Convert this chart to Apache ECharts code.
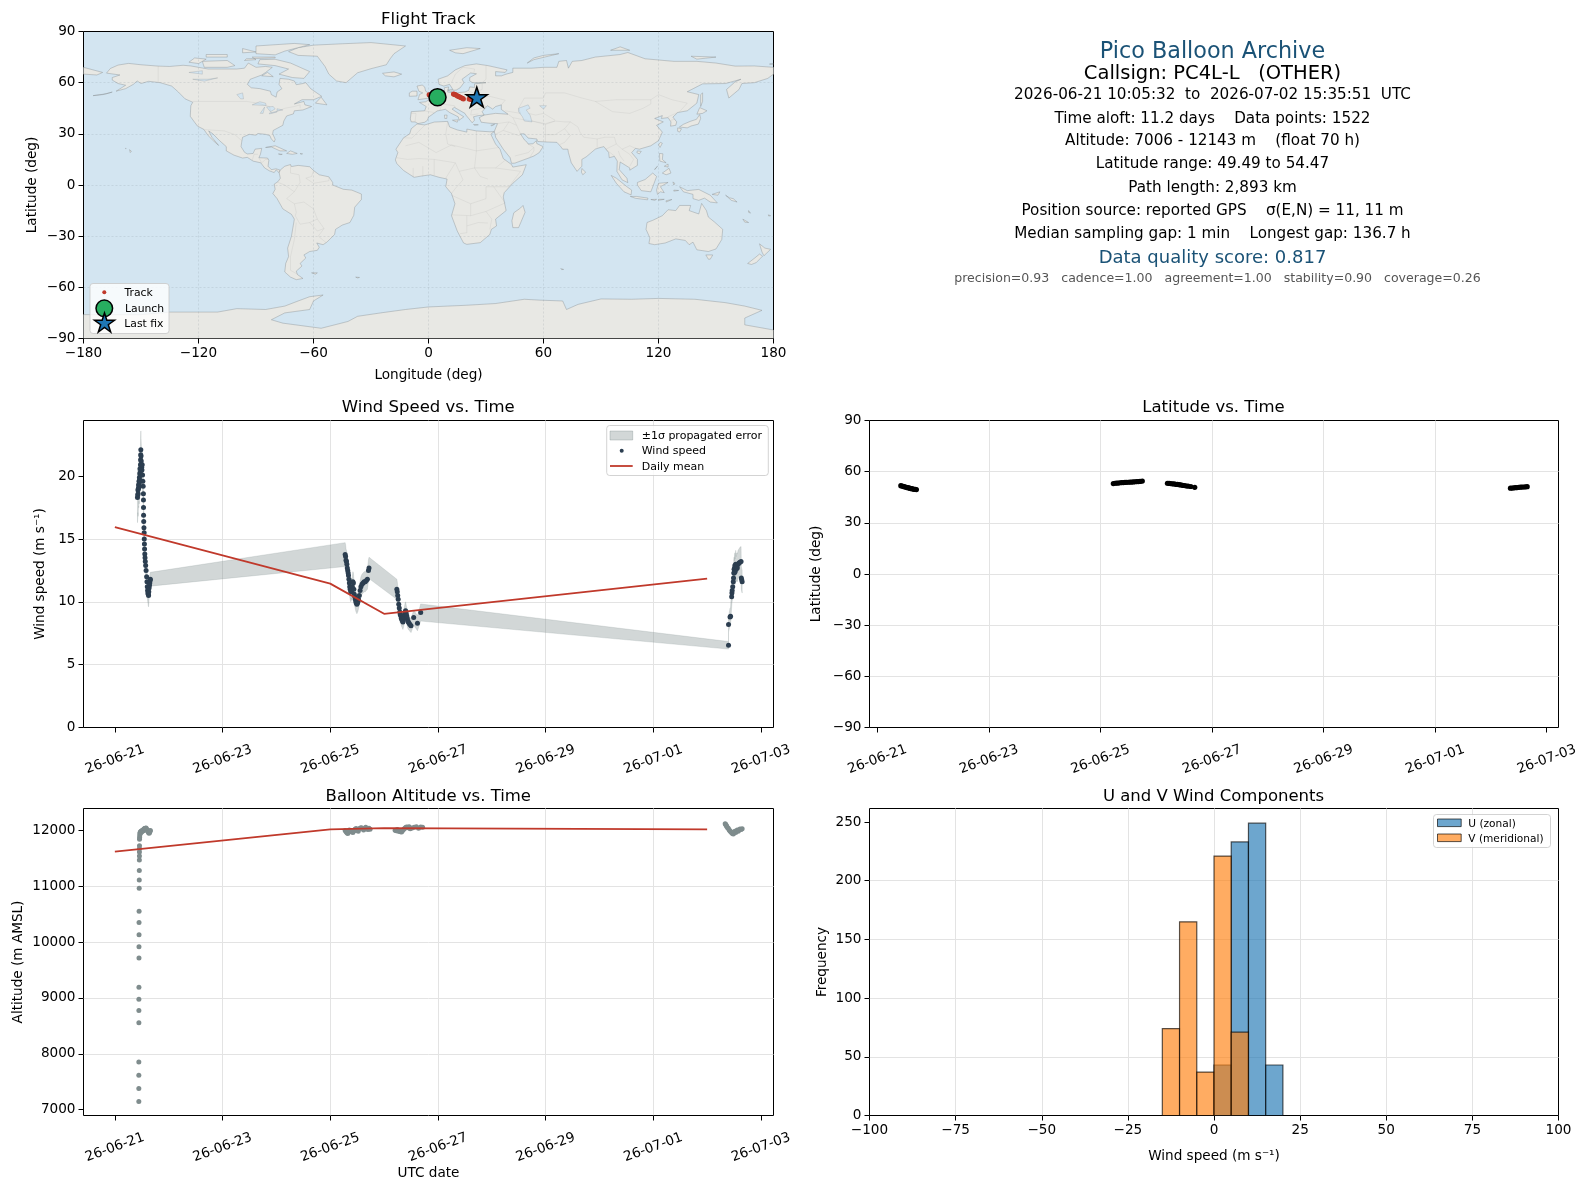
<!DOCTYPE html>
<html><head><meta charset="utf-8"><title>Pico Balloon Archive</title>
<style>html,body{margin:0;padding:0;background:#fff}#c{width:1587px;height:1189px}</style>
<script src="https://cdn.jsdelivr.net/npm/echarts@6/dist/echarts.min.js"></script>
</head><body><div id="c"></div><script>
const FONT='DejaVu Sans';
const chartTitles=['Flight Track','Wind Speed vs. Time','Latitude vs. Time','Balloon Altitude vs. Time','U and V Wind Components'];
const infoLines=[
 ['Pico Balloon Archive',22.3,'#1a5276'],['Callsign: PC4L-L   (OTHER)',19.5,'#000'],
 ['2026-06-21 10:05:32  to  2026-07-02 15:35:51  UTC',15.2,'#000'],
 ['Time aloft: 11.2 days    Data points: 1522',15.2,'#000'],
 ['Altitude: 7006 - 12143 m    (float 70 h)',15.2,'#000'],
 ['Latitude range: 49.49 to 54.47',15.2,'#000'],['Path length: 2,893 km',15.2,'#000'],
 ['Position source: reported GPS    σ(E,N) = 11, 11 m',15.2,'#000'],
 ['Median sampling gap: 1 min    Longest gap: 136.7 h',15.2,'#000'],
 ['Data quality score: 0.817',18,'#1a5276'],
 ['precision=0.93   cadence=1.00   agreement=1.00   stability=0.90   coverage=0.26',12.55,'#555']];

// land outlines, [lon,lat]
const northAmerica=[[-168,65.6],[-166,68.3],[-162,70.3],[-156.5,71.3],[-150,70.5],[-141,69.7],[-135,69.5],[-128,70.2],[-124,69.8],[-115,68],[-108,68],[-100,68],[-96,68.5],[-94,71.5],[-90,69],[-85,69.5],[-81.5,69],[-85,66],[-87,64.5],[-93,62],[-94.5,59],[-92.5,57],[-88,56.5],[-82.5,55],[-82,53],[-79.5,51.5],[-79,54.5],[-76.5,56.5],[-78,59],[-77.5,62.5],[-73,62],[-70,61],[-69,58.8],[-65.5,59.5],[-64,60],[-61.5,56.5],[-57,53],[-55.7,52],[-60,50],[-66,50],[-70,47.5],[-65,49],[-64.5,47],[-61,46],[-65.5,44],[-70,43.5],[-70.5,41.7],[-74,40.5],[-75.5,37.5],[-76,35],[-78,33.8],[-81,32],[-81.3,30],[-80,26.8],[-80.5,25.2],[-82,27],[-82.8,29],[-85,29.7],[-89,30.2],[-90,29.2],[-93.5,29.7],[-97,28],[-97.5,25],[-97.8,22.5],[-96,19.2],[-94.5,18.2],[-91.5,18.5],[-90.5,21],[-87,21.5],[-87.7,18],[-88.5,16],[-84,15.8],[-83.3,14.5],[-83.7,11],[-82,9],[-79.5,9.5],[-77.4,8.7],[-77.9,7.2],[-79.5,8.9],[-80.5,7.3],[-83,8.3],[-85.5,10],[-87.5,13],[-91.5,14],[-94.5,16.2],[-97,15.8],[-101.5,17.5],[-105.5,20],[-105.5,22.5],[-109,26],[-112.5,30],[-114.7,31.7],[-113,28],[-109.5,23.2],[-112.3,26],[-115,29],[-117.2,32.6],[-120.5,34.5],[-122.5,37.5],[-124.3,40.3],[-124,46.5],[-123,48.5],[-127,50.5],[-130.5,54.5],[-134,58],[-140,60],[-146,60.8],[-150,59.5],[-152,61],[-154,59],[-158,56.5],[-163,55],[-158,58.5],[-162,59.5],[-165,61.5],[-165,63],[-161,64.5],[-168,65.6]];
const southAmerica=[[-77.4,8.7],[-75,11],[-72,12],[-71.5,10.8],[-68,11.5],[-62,10.7],[-60,8.5],[-57,6],[-52,4.8],[-50,1.5],[-50,0],[-44.5,-2.5],[-40,-3],[-35,-5.3],[-35,-8.5],[-38.5,-13],[-39,-17.8],[-41,-22],[-45,-23.5],[-48.5,-26],[-49,-29],[-53,-33.5],[-55,-35],[-58.3,-34],[-57,-36.5],[-58,-38.3],[-62,-39],[-65,-41],[-64,-42.8],[-67,-46],[-66,-47.5],[-69,-50.5],[-68.4,-52.5],[-65.5,-54.8],[-69,-55.5],[-72,-54],[-75,-51],[-74.5,-46],[-73,-42],[-73.5,-37],[-71.5,-30],[-70,-20],[-71.5,-17.2],[-76,-14],[-79,-8],[-81.2,-5],[-80,-2.5],[-80.5,0.5],[-78.5,2],[-77.3,4],[-77.9,7.2],[-77.4,8.7]];
const greenland=[[-73,78.2],[-68,80.5],[-60,82],[-45,82.8],[-30,83.5],[-12,81.5],[-18,77],[-20,74],[-22,70.5],[-30,68.2],[-37,65.8],[-43,60],[-48,61],[-52,65],[-54,69.5],[-58,75.5],[-68,76],[-73,78.2]];
const eurasia=[[-9,37],[-9.5,38.7],[-9,43],[-2,43.5],[-1.2,46],[-4.7,48.4],[-1.5,48.8],[1.5,50.8],[4,52],[5,53.2],[8.5,54],[8.2,57],[10.5,57.5],[10,54.5],[14,54],[19,54.5],[21,55.5],[21.5,57.5],[24,57.2],[24,59.3],[30,60],[23,60],[21.5,61],[21.5,63],[25,65.2],[22,65.7],[17.5,62],[18.5,60],[16.5,57],[14.5,55.7],[13,55.5],[11,59],[8,58],[5.5,59],[5,62],[10,64],[14,67.5],[19,70],[25,71],[31,70],[41,67.5],[40,66],[35,66.5],[35,64],[38,64],[40.5,65],[44,66],[44,68.5],[54,68.5],[60,69],[67,69],[68,72.5],[72,73],[73,68.5],[75,72.5],[80,73],[87,75],[100,76.5],[104,77.7],[113,74],[128,72.5],[140,72.5],[150,71.5],[160,69.7],[170,69.8],[180,69],[180,65],[177,62.5],[170,60],[163.5,59.5],[162,56],[156.7,51],[155.5,56],[160,60.5],[163,62],[155,59.5],[143,59.3],[135,54.7],[141,53],[140,48],[135,43.5],[130,42.5],[127.5,39.8],[129.5,37],[129,35],[126.3,34.5],[126.5,37],[125,39.5],[121.5,39],[122,40.7],[118,39],[122.5,37],[119,35],[122,31],[120,26],[116,23],[110,21],[108,21.5],[106,19],[109,15],[109,11.5],[105,8.7],[105,10],[100,13.5],[99.5,9],[103.5,4],[104,1.4],[101,3],[98.3,8],[98.5,14],[97,16.8],[94.3,16],[94,19],[91.5,22.5],[89,21.8],[87,21],[82.3,16.5],[80,15],[80,11],[77.5,8],[74.5,13],[73,19],[72.7,21],[70,21],[69,22.5],[67,25],[62,25.2],[57,25.5],[56.5,27],[52,27.5],[50,30],[48,30],[50,26.5],[51.5,25],[52,24],[54.5,24.2],[56.3,26],[56.5,24.3],[59.8,22.5],[57.8,19],[55,17],[52,15.7],[45,12.8],[43.3,12.7],[42.6,16],[39,21],[35,28],[34.8,29.5],[34.3,31.3],[36,36],[32,36.2],[27.5,36.8],[26.5,39.5],[29,41],[35,42],[41.5,41.5],[38,44.3],[38,47],[35,46],[33.5,44.5],[30.7,46.5],[28,43],[29,41],[26,40.7],[23.5,40],[24,38],[22.8,36.5],[19.5,41],[19,42],[13.5,45.5],[12.3,44.5],[16,41.7],[18.4,40],[16,38],[15.5,40],[11,42.5],[8.8,44.4],[4.5,43.4],[3,42.2],[0,39.8],[-0.5,38],[-2,36.8],[-5.5,36],[-7,37],[-9,37]];
const africa=[[-6,35.8],[-2,35.2],[3,36.9],[10,37.3],[11,34],[15,32.3],[20,31],[20,32.8],[25,31.7],[32,31.2],[34.3,31.3],[32.5,29.8],[35,24],[37.3,21],[39,15.5],[43.3,12],[44,10.5],[51,11.9],[49,6],[44,1],[39.5,-4.5],[39,-7],[40.5,-15],[35,-20],[35.5,-24],[32.8,-26],[32,-29],[27,-33.8],[20,-34.8],[18.3,-34],[15,-27],[12,-18],[13.8,-11],[12,-5],[9,-1],[9.7,3.5],[5.5,4.5],[1,6],[-4,5.2],[-7.5,4.5],[-13,8.5],[-16.5,12.5],[-17.3,14.7],[-16,19],[-17,21],[-13,27.7],[-9.8,30],[-9,33],[-6,35.8]];
const australia=[[114,-22],[113.5,-26],[115.5,-31],[115,-34.3],[118,-35],[123.5,-34],[129,-31.6],[134,-32.5],[136,-35],[138,-33.5],[140,-38],[146,-39],[150,-37.5],[153,-32],[153.5,-26],[149,-21.5],[146,-18.8],[145,-15],[142.5,-10.8],[141,-17],[136,-15],[136.8,-12],[131,-12],[129,-15],[125,-14.5],[122,-18],[117,-20.7]];
const antarctica=[[-180,-76],[-150,-76],[-135,-74.5],[-110,-74.5],[-100,-72.5],[-85,-73],[-75,-71],[-68,-68],[-62,-65.5],[-55,-64.5],[-60,-68],[-62,-73],[-75,-75],[-82,-79],[-76,-81],[-56,-84],[-42,-80],[-37,-77],[-25,-75],[-12,-73],[0,-71.5],[20,-70.5],[35,-69.5],[50,-67],[58,-67.5],[70,-68],[72,-73],[78,-70],[90,-66.8],[106,-67],[120,-66.5],[139,-67],[155,-69],[165,-71],[174,-73.5],[165,-78],[165,-82],[180,-85],[180,-90],[-180,-90]];
const islands=[
 [[-80,73.7],[-72,71.5],[-67,69],[-62,66.5],[-65,62.5],[-71,63],[-78,65],[-73,68],[-80,70],[-89,71],[-88,73.5]],
 [[-117,69],[-105,69],[-101,70],[-105,73],[-118,72.5]],[[-125,72],[-122,74.5],[-116,73.8],[-120,71.2]],
 [[-90,77],[-80,76.3],[-75,78.5],[-62,82.3],[-70,83],[-90,81.5]],[[-116,75],[-105,75],[-105,76.5],[-116,76.5]],
 [[-96,73],[-90,73.5],[-92,75],[-80,75],[-80,74.5],[-95,74]],[[-97,77.5],[-90,78],[-97,80]],[[-87,64],[-81,63.5],[-84,66]],
 [[-59,48],[-56,51.5],[-53,47]],[[-85,22],[-80,23],[-74,20],[-77.5,20],[-82,22.3]],[[-74,18.5],[-72,20],[-68.5,18.5],[-71,18]],
 [[-78.3,18.2],[-76.3,18],[-77,17.8]],[[-67,18.4],[-65.7,18.3],[-66,18]],[[-156,20.7],[-155,19.8],[-155.6,19]],[[-158.2,21.5],[-157.7,21.4],[-158,21.3]],
 [[-175,52.4],[-168,53.5],[-165,54.5],[-170,53]],[[-24,65.5],[-18,66.3],[-14,65],[-18,63.4],[-22.5,64]],
 [[-5.5,50],[1.3,51.2],[1.7,52.7],[-1.5,55],[-2,57.5],[-3.3,58.6],[-6,58],[-5,55],[-3,54],[-4.7,53],[-5,51.7]],[[-10,52],[-6,52.2],[-6,55],[-8.5,55],[-10,54]],
 [[49.3,-12],[50.4,-16],[47,-25],[44,-25],[43.5,-21],[44.5,-16.3],[48,-13.5]],[[80,9.7],[82,7.5],[80.5,6],[79.8,7.5]],
 [[130.9,34],[133,35.6],[136.5,37.3],[139.8,38.5],[141.5,41.3],[142,39],[140.8,35.7],[137,34.6],[135,33.5]],[[140,41.5],[141.5,45.4],[145.3,43.5],[143,42]],[[130,33.5],[132,33],[131,31],[130,31.5]],
 [[142,46],[143,49],[143,54],[142,53],[142,48]],[[121,25],[122,24.5],[120.8,22],[120,23.5]],[[109,20],[111,19.7],[110,18.2],[108.7,19]],
 [[120.5,18.5],[122.3,18.3],[122,15],[124,13],[120.7,14]],[[122,7],[125.5,9.8],[126.5,7],[124,6]],[[118,9],[119.5,11],[118.5,10]],[[123,11],[125,12.3],[125,10.5]],
 [[109,1.5],[113,3.2],[117,7],[119,5],[117.7,1],[116,-4],[111,-3.3],[109,0]],[[95.3,5.6],[98,4],[103.5,-1],[106,-3],[105.7,-5.8],[102,-4],[98,1]],
 [[105.3,-6.7],[108.5,-6.7],[114.5,-7.7],[114.3,-8.7],[108,-7.8]],[[119.5,-5.5],[119,-3],[120,1],[125,1.5],[121,-1],[123,-4.5],[121,-4]],
 [[116,-8.5],[119,-8.4],[118,-9]],[[120,-8.4],[123,-8.4],[120,-9]],[[124,-10],[127,-8.5],[124,-9.2]],[[127.5,1.8],[128.5,1],[128,0]],[[128,-3],[130.5,-3.2],[128,-3.6]],
 [[131,-1],[135,-3.3],[141,-2.6],[147,-6],[150.7,-10.5],[147,-10],[144,-7.7],[141,-9],[138,-8],[138,-5.5],[133,-4],[132,-2.5]],[[148,-5.5],[152,-4],[151,-6]],[[155,-6],[157,-7.5],[159,-8],[161,-10],[158,-9]],
 [[144.7,-41],[148.3,-41],[147,-43.5],[146,-43.5]],[[172.7,-34.5],[175.5,-37],[178.5,-37.7],[175,-41.5],[174,-39.3]],[[172.7,-40.5],[174.3,-41.7],[171,-45.5],[168.5,-46.6],[166.5,-46],[170,-43]],
 [[164,-20],[167,-22],[165,-21.8]],[[167,-15],[168,-16.5],[167,-16]],[[177.3,-17.5],[178.5,-18],[177.5,-18.2]],
 [[51.5,71.5],[55,73.5],[68,77],[60,76],[55,74.5]],[[11,79],[20,80.5],[27,80],[18,77],[14,77.5]],[[95,79],[105,79],[100,81]],[[137,75.5],[150,75],[140,73.8]],[[178,71],[180,71],[178,70.8]],
 [[-180,69],[-175,67.5],[-170,66],[-173,64.5],[-180,65]],[[-61,-51.5],[-58,-51.5],[-59,-52.3]],[[-38,-54],[-36,-54.2],[-37,-54.5]],[[69,-49],[70.5,-49.5],[69.5,-49.6]],[[12.5,38],[15.5,38.2],[15,36.8]],[[8.3,41],[9.7,41],[9.5,39],[8.5,39]],
 [[23.5,35.5],[26,35.3],[24,35]],[[32.5,35],[34.5,35.6],[33,34.7]],[[10,55.7],[12.5,56],[12,54.8]]];
const waterBodies=[[[47,45],[52,47],[53,45],[51,44],[53,41],[54,37],[50,37.5],[49,40],[47,43]],
 [[-92,47],[-88,48.8],[-85,48],[-84.7,46.6],[-88,46.8]],[[-87.8,42],[-85.5,45.7],[-86.3,42]],[[-84.5,45.8],[-81,46],[-80,44.6],[-82.5,43]],[[-83,41.7],[-79,42.8],[-79,43.2],[-83,42.2]],
 [[58,46.5],[61.5,46.5],[60,44.5]],[[-79,44.7],[-76,44],[-79,43.5]],[[-100,53],[-97,54],[-96.5,50.5],[-98,50.5]],[[-123,62],[-115,62],[-110,62.8],[-117,60.9]],[[-125,66],[-118,67],[-118,65]]];
const countryBorders=[
 [[-123,49],[-95,49],[-89,48],[-83,46],[-82,42],[-79,43],[-75,45],[-70,46],[-67,47],[-67,45]],[[-141,69.7],[-141,60]],[[-117,32.5],[-106.5,31.7],[-101,29.5],[-97.5,26]],[[-92,14.5],[-91,18],[-89,18]],[[-88.5,15.8],[-87,13],[-85,15],[-83.5,15]],
 [[-72,11.8],[-72,7],[-67.5,6],[-67,1.5],[-70,-4]],[[-60,8.5],[-61,5],[-64,4],[-60,1],[-52,2.5],[-51.8,4.5]],[[-78.5,1.5],[-75,0],[-70,-4],[-74,-8],[-70,-11],[-69,-16],[-69.5,-18]],[[-70,-11],[-65,-10],[-60,-14],[-58,-20],[-62,-22],[-67,-23],[-69.5,-18]],[[-58,-20],[-54.5,-25.5],[-58,-27],[-62,-22]],[[-69,-22],[-70,-32],[-72,-42],[-72,-50],[-68.4,-52.3]],[[-54.5,-25.5],[-57.5,-30],[-53.5,-33.7]],
 [[-1.8,43.4],[3,42.5]],[[-9,42],[-6.5,42],[-7,37.2]],[[2.5,51],[8,49],[7,47.5],[10,47],[13.5,46.5],[14,45.5]],[[6,43.9],[7,47.5]],[[7,53.5],[6,51],[2.5,51]],[[14.2,54],[15,51],[19,49.5],[24,48.5],[24,50.5],[23.5,54],[21,55]],[[23.5,54],[28,56],[28,59.5]],[[24,48.5],[30,46],[28,45],[22.5,44],[22,41],[26,41.7]],[[24,50.5],[32,52],[40,49.7],[38,47]],[[30,70],[30,62],[28,60]],[[18,69],[24,68],[23.7,65.8]],[[12,60],[14,65],[18,69]],
 [[40,43.5],[48,42],[47,45],[50,51],[60,51],[61,54],[71,54],[80,51],[87,49],[98,50],[107,50],[116,50],[120,53],[127,50],[135,48],[131,43]],[[87,49],[96,43],[105,42],[112,45],[116,47.5],[116,50]],[[41.5,41.5],[44,39.5],[48.5,38.5],[54,37.5],[61,35.5],[61,31],[61,25.2]],[[44,39.5],[46,35],[48,30]],[[36,36],[42,37],[46,35]],[[39,32],[42,37]],[[34.5,29.5],[39,32],[47,29],[48,29.5]],[[45,17],[52,19],[55,22],[52,24]],[[53,16.5],[55,20],[55,22]],
 [[61,35.5],[66,37.5],[71,37],[74,37],[71,33],[66,29.5],[61,29.5]],[[54,37.5],[61,36],[66,37.5]],[[52,42],[56,41],[60,42],[66,38]],[[74,37],[78,34],[79,31],[81,28],[88,27],[92,28],[97,28],[98,24],[101,21],[105,23],[108,21.5]],[[71,33],[74,29],[71,25],[68.5,23.7]],[[88,27],[88,22]],[[98,24],[92.5,21],[97,17]],[[101,21],[105,18],[107,15],[105,11]],[[99,20],[100,17],[102,14]],[[125,40],[130,42.5]],[[126.5,38],[128.5,38.5]],
 [[-8.7,27.5],[-2,35]],[[-8.7,27.5],[-13,27.7]],[[-12,23],[-5,25],[4,19],[12,23.5],[25,20],[36.8,22]],[[10,37],[9,30],[10,24],[14,22.5]],[[25,31.7],[25,20],[24,10],[27,5],[31,3.5]],[[-16.5,16],[-11,15],[-5,15.5],[3,15],[14,13],[16,8],[24,10],[35,10],[40,14.5]],[[14,13],[9,4]],[[3,15],[3,6]],[[-8,10],[-8,4.5]],[[-3,11],[-3,5]],[[34,-1],[30,-1],[30,-8],[22,-11],[12,-6]],[[34,-1],[42,-1],[48,8],[35,10]],[[34,-1],[40,-10.5]],[[16,8],[18,3],[14,-2],[12,-5]],[[22,-11],[22,-18],[12,-17.5]],[[20,-18],[20,-28],[16.5,-28.5]],[[22,-18],[30,-15.5],[40,-10.5]],[[30,-15.5],[33,-20],[32,-26]],[[20,-24],[26,-22],[31,-22.3]]
];
const landPolygons=[northAmerica,southAmerica,greenland,eurasia,africa,australia,antarctica].concat(islands);

const trackLon=[0.3,0.8,1.4,1.9,2.6,3.2,3.9,4.6,5.2,5.9,13.0,13.4,13.8,14.3,14.8,15.3,15.8,16.3,16.8,17.4,17.9,18.2,21.2,21.8,22.4,22.9,23.6,24.2,24.8,25.2];
const trackLat=[52.9,52.7,52.6,52.3,52.2,52.0,51.8,51.6,51.5,51.3,53.4,53.2,53.0,52.7,52.5,52.1,51.9,51.6,51.3,51.0,50.7,50.4,50.4,50.3,50.2,50.4,50.7,50.9,51.1,51.3];
const launchPoint=[4.7,51.5];
const lastFixPoint=[25.2,51.5];

// [day since 2026-06-21 00:00 UTC, speed m/s, sigma]
const windLeg1=[[.420,18.3,2.0],[.424,18.5,1.9],[.428,18.9,1.8],[.432,18.6,1.8],[.436,19.0,1.7],[.440,19.3,1.7],[.444,19.1,1.6],[.448,19.6,1.6],[.452,19.4,1.6],[.456,19.9,1.6],[.460,19.7,1.5],[.464,20.2,1.5],[.468,20.6,1.5],[.472,20.3,1.5],[.476,20.9,1.5],[.478,21.3,1.5],[.480,21.7,1.5],[.482,22.1,1.5],[.486,21.6,1.4],[.490,21.2,1.4],[.494,20.9,1.4],[.498,20.7,1.3],[.503,20.5,1.3],[.508,20.9,1.3],[.514,20.1,1.2],[.520,19.6,1.2],[.526,19.2,1.2],[.530,18.6,1.1],[.531,18.1,1.1],[.532,17.5,1.1],[.533,16.9,1.0],[.536,16.4,1.0],[.540,15.9,1.0],[.544,15.5,1.0],[.546,15.0,.9],[.549,14.6,.9],[.552,14.2,.9],[.556,13.8,.9],[.560,13.5,.9],[.565,13.2,.8],[.572,12.9,.8],[.580,12.5,.8],[.590,12.0,.8],[.596,11.6,.8],[.602,11.2,.8],[.608,10.9,.8],[.614,10.7,.8],[.620,10.6,.9],[.626,10.5,.9],[.630,10.8,.9],[.636,11.1,.8],[.642,11.3,.7],[.648,11.5,.6],[.654,11.7,.55],[.660,11.8,.55]];
const windLeg2=[[4.277,13.76,.95],[4.285,13.6,.95],[4.293,13.3,.9],[4.301,13.2,.9],[4.309,13.0,.9],[4.317,12.7,.9],[4.325,12.5,.85],[4.333,12.3,.85],[4.339,12.1,.85],[4.347,11.8,.85],[4.355,11.5,.8],[4.362,11.2,.8],[4.370,11.0,.8],[4.380,10.8,.8],[4.390,11.1,.8],[4.400,10.9,.8],[4.410,11.2,.8],[4.420,11.6,.8],[4.430,11.5,.8],[4.438,11.0,.8],[4.446,10.6,.8],[4.455,10.4,.75],[4.465,10.2,.75],[4.475,10.0,.75],[4.485,9.9,.75],[4.495,9.8,.75],[4.505,9.9,.75],[4.515,10.0,.75],[4.525,10.2,.75],[4.540,10.5,.75],[4.555,10.9,.75],[4.570,11.2,.8],[4.590,11.4,.8],[4.610,11.5,.8],[4.630,11.6,.8],[4.650,11.6,.8],[4.670,11.7,.8],[4.690,11.8,.8],[4.710,12.5,.85],[4.720,12.7,.85]];
const windLeg3=[[5.237,11.0,.8],[5.245,10.8,.8],[5.253,10.5,.75],[5.262,10.2,.7],[5.272,9.8,.7],[5.282,9.5,.65],[5.292,9.2,.65],[5.300,9.0,.65],[5.310,8.9,.6],[5.320,8.7,.6],[5.330,8.6,.6],[5.340,8.5,.6],[5.350,8.4,.6],[5.360,8.6,.65],[5.370,8.8,.65],[5.380,9.0,.65],[5.390,9.2,.7],[5.400,9.3,.7],[5.410,9.1,.65],[5.420,8.9,.65],[5.430,8.7,.6],[5.440,8.5,.6],[5.450,8.4,.6],[5.465,8.3,.55],[5.480,8.2,.55],[5.500,8.1,.55],[5.550,8.75,.6],[5.620,8.3,.6],[5.680,9.15,.68]];
const windLeg4=[[11.397,6.54,.3],[11.397,8.2,.6],[11.425,8.8,.7],[11.435,8.85,.7],[11.455,10.4,.8],[11.460,10.7,.8],[11.465,10.9,.85],[11.475,11.2,.85],[11.485,11.6,.9],[11.490,11.9,.9],[11.495,12.3,.95],[11.500,12.6,.95],[11.505,12.3,.95],[11.510,12.7,1.0],[11.515,12.9,1.0],[11.520,12.4,1.0],[11.530,13.0,1.1],[11.540,12.6,1.0],[11.550,12.8,1.1],[11.560,12.7,1.1],[11.575,13.0,1.1],[11.590,13.1,1.1],[11.610,13.15,1.2],[11.630,13.2,1.2],[11.635,11.9,.9],[11.642,11.75,.9],[11.650,11.6,.9]];
const meanDay=[0,4,5,11];
const windMean=[15.95,11.45,9.05,11.85];
const altMean=[11620,12020,12040,12020];

// [day, altitude m]
const altClimb=[[.445,7145],[.445,7380],[.445,7616],[.445,7851],[.446,8558],[.446,8775],[.446,8975],[.447,9192],[.448,9717],[.448,9917],[.449,10134],[.449,10351],[.450,10551],[.452,10967],[.453,11112],[.454,11281],[.455,11470],[.456,11542],[.456,11614],[.457,11670],[.457,11725],[.458,11844],[.460,11874],[.462,11910],[.465,11945]];
const altLeg1=[[.470,11965],[.476,11975],[.482,11960],[.488,11985],[.494,11970],[.500,11995],[.506,11985],[.512,12000],[.518,11990],[.524,12010],[.530,12000],[.536,12020],[.542,12010],[.548,12030],[.554,12035],[.560,12020],[.566,12040],[.572,12030],[.580,12045],[.588,12025],[.596,12010],[.604,11995],[.612,12005],[.620,11975],[.628,11960],[.636,11950],[.644,11965],[.652,11985],[.660,12000]];
const altLeg2=[[4.277,12000],[4.295,11975],[4.310,11960],[4.325,11945],[4.340,11985],[4.355,12010],[4.370,11990],[4.385,11975],[4.400,11985],[4.420,11965],[4.440,11990],[4.460,12020],[4.480,12035],[4.500,12005],[4.520,11985],[4.540,12030],[4.560,12045],[4.580,12050],[4.600,12035],[4.620,12010],[4.640,12040],[4.660,12055],[4.680,12030],[4.700,12015],[4.720,12040],[4.740,12020]];
const altLeg3=[[5.205,12005],[5.225,11995],[5.245,12015],[5.265,11985],[5.285,11990],[5.305,11975],[5.325,11970],[5.345,12000],[5.365,12020],[5.385,12040],[5.405,12055],[5.425,12060],[5.445,12050],[5.465,12065],[5.485,12030],[5.520,12045],[5.560,12055],[5.600,12065],[5.640,12040],[5.680,12060],[5.715,12055]];
const altLeg4=[[11.335,12120],[11.345,12105],[11.355,12090],[11.365,12070],[11.380,12050],[11.395,12035],[11.410,12010],[11.425,11990],[11.440,11975],[11.455,11960],[11.470,11945],[11.485,11935],[11.500,11955],[11.515,11985],[11.530,11965],[11.545,11990],[11.560,12010],[11.575,11985],[11.590,12005],[11.610,12025],[11.630,12015],[11.650,12030]];

// [day, latitude deg]
const latLeg1=[[.420,51.8],[.440,51.6],[.460,51.4],[.480,51.2],[.500,51.0],[.520,50.8],[.540,50.6],[.560,50.5],[.580,50.3],[.600,50.1],[.620,50.0],[.640,49.8],[.660,49.7],[.680,49.6],[.700,49.49]];
const latLeg2=[[4.230,53.0],[4.260,53.2],[4.290,53.3],[4.320,53.3],[4.350,53.5],[4.380,53.6],[4.410,53.6],[4.440,53.7],[4.470,53.8],[4.500,53.8],[4.530,53.9],[4.560,53.9],[4.590,54.0],[4.620,54.1],[4.650,54.2],[4.680,54.2],[4.710,54.3],[4.750,54.47]];
const latLeg3=[[5.200,53.2],[5.230,53.1],[5.260,53.0],[5.290,52.9],[5.320,52.8],[5.350,52.6],[5.380,52.5],[5.410,52.4],[5.440,52.2],[5.470,52.0],[5.500,51.9],[5.530,51.7],[5.570,51.5],[5.620,51.3],[5.690,50.8]];
const latLeg4=[[11.350,50.3],[11.380,50.4],[11.410,50.5],[11.440,50.6],[11.470,50.7],[11.500,50.8],[11.530,50.9],[11.560,51.0],[11.590,51.0],[11.620,51.1],[11.650,51.2]];

const binEdges=[-15,-10,-5,0,5,10,15,20];
const uCounts=[0,0,0,43,233,249,43];
const vCounts=[74,165,37,221,71,0,0];
const altTicks=[7000,8000,9000,10000,11000,12000];
const windTicks=[0,5,10,15,20];
const freqTicks=[0,50,100,150,200,250];
const dateTickDays=[0,2,4,6,8,10,12];

const DAY=86400000, T0=Date.UTC(2026,5,21);
const toMs=d=>T0+d*DAY;
const minus=v=>String(v).replace('-','\u2212');
const dateLabel=v=>new Date(v).toISOString().slice(2,10);
const tickVals=dateTickDays.map(toMs);

const frame={show:true,borderColor:'#000',borderWidth:1,backgroundColor:'transparent'};
const G=[
 Object.assign({},frame,{left:83.5,top:31.5,width:690,height:307,backgroundColor:'#d3e5f1'}),
 Object.assign({},frame,{left:83.5,top:420.5,width:690,height:307}),
 Object.assign({},frame,{left:869.5,top:420.5,width:689,height:307}),
 Object.assign({},frame,{left:83.5,top:808.5,width:690,height:307}),
 Object.assign({},frame,{left:869.5,top:808.5,width:689,height:307})];
const labelStyle={color:'#000',fontFamily:FONT,fontSize:13.6};
const nameStyle={color:'#000',fontFamily:FONT,fontSize:13.6};
const tickStyle={show:true,length:5,lineStyle:{color:'#000',width:1}};
const gridLine={show:true,showMinLine:false,showMaxLine:false,lineStyle:{color:'#e3e3e3',width:1}};
const axisBase={axisLine:{show:false,onZero:false},axisTick:tickStyle};
function timeAxis(gi,min,max,name,gap){
 return Object.assign({},axisBase,{type:'value',gridIndex:gi,min:toMs(min),max:toMs(max),name:name||'',nameLocation:'middle',nameGap:gap||51,nameTextStyle:nameStyle,
  axisTick:Object.assign({},tickStyle,{customValues:tickVals}),
  axisLabel:Object.assign({},labelStyle,{rotate:20,margin:32,align:'center',verticalAlign:'middle',customValues:tickVals,formatter:v=>dateLabel(v)}),
  splitLine:gridLine});
}
function valAxis(gi,o,name,gap,custom){
 const base=Object.assign({},axisBase,{type:'value',gridIndex:gi,name:name,nameLocation:'middle',nameGap:gap,nameTextStyle:nameStyle,
  axisLabel:Object.assign({},labelStyle,{margin:8,formatter:minus}),splitLine:gridLine},o);
 if(custom){base.axisLabel=Object.assign({},base.axisLabel,{customValues:custom});base.axisTick=Object.assign({},tickStyle,{customValues:custom});}
 return base;
}
const mapGrid={show:true,showMinLine:false,showMaxLine:false,lineStyle:{color:'rgba(110,120,130,.2)',width:.8,type:[2,2]}};
const xAxes=[
 valAxis(0,{min:-180,max:180,interval:60,splitLine:mapGrid,z:3},'Longitude (deg)',30),
 timeAxis(1,-.5825,12.2324),
 timeAxis(2,-.141,12.2114),
 timeAxis(3,-.5825,12.2324,'UTC date',51),
 valAxis(4,{min:-100,max:100,interval:25},'Wind speed (m s\u207b\u00b9)',34)];
const yAxes=[
 valAxis(0,{min:-90,max:90,interval:30,splitLine:mapGrid,z:3},'Latitude (deg)',44),
 valAxis(1,{min:0,max:24.43},'Wind speed (m s\u207b\u00b9)',36,windTicks),
 valAxis(2,{min:-90,max:90,interval:30},'Latitude (deg)',46),
 valAxis(3,{min:6895,max:12393},'Altitude (m AMSL)',58,altTicks),
 valAxis(4,{min:0,max:261.5},'Frequency',40,freqTicks)];

function polySeries(polys,style,z,name){
 return {type:'custom',name:name,xAxisIndex:0,yAxisIndex:0,z:z,silent:true,clip:true,
  data:polys.map((p,i)=>[i]),
  encode:{x:[],y:[]},
  renderItem:(params,api)=>{const pts=polys[params.dataIndex].map(p=>api.coord(p));
   return {type:style.fill?'polygon':'polyline',shape:{points:pts},style:style};}};
}
const windRows=windLeg1.concat(windLeg2,windLeg3,windLeg4);
const bandPoly=windRows.map(r=>[toMs(r[0]),r[1]+r[2]]).concat(windRows.slice().reverse().map(r=>[toMs(r[0]),r[1]-r[2]]));
const BANDFILL='rgba(127,140,141,.35)';
const pt=(rows)=>rows.map(r=>[toMs(r[0]),r[1]]);
function histSeries(name,counts,color,z){
 return {type:'custom',name:name,xAxisIndex:4,yAxisIndex:4,z:z,clip:true,
  data:counts.map((c,i)=>[binEdges[i],binEdges[i+1],c]).filter(r=>r[2]>0),
  encode:{x:[0,1],y:2},
  renderItem:(params,api)=>{const a=api.coord([api.value(0),0]),b=api.coord([api.value(1),api.value(2)]);
   return {type:'rect',shape:{x:a[0],y:b[1],width:b[0]-a[0],height:a[1]-b[1]},style:{fill:color,stroke:'rgba(0,0,0,.65)',lineWidth:1.2}};}};
}
const STAR='M50,0 L61.2,34.5 L97.6,34.5 L68.2,55.9 L79.4,90.5 L50,69.1 L20.6,90.5 L31.8,55.9 L2.4,34.5 L38.8,34.5 Z';
const dot=c=>({color:c,opacity:1});
const series=[
 polySeries(landPolygons,{fill:'#e8e8e4',stroke:'rgba(120,125,130,.5)',lineWidth:.7},1,'Land'),
 polySeries(waterBodies,{fill:'#d3e5f1',stroke:'rgba(120,125,130,.45)',lineWidth:.5},1,'Lakes'),
 polySeries(countryBorders,{fill:null,stroke:'rgba(150,150,150,.22)',lineWidth:.6},1,'Borders'),
 {type:'scatter',name:'Track',xAxisIndex:0,yAxisIndex:0,z:5,symbolSize:5,itemStyle:dot('#c0392b'),data:trackLon.map((v,i)=>[v,trackLat[i]])},
 {type:'scatter',name:'Launch',xAxisIndex:0,yAxisIndex:0,z:6,symbolSize:17,itemStyle:{color:'#27ae60',opacity:1,borderColor:'#000',borderWidth:1.5},data:[launchPoint]},
 {type:'scatter',name:'Last fix',xAxisIndex:0,yAxisIndex:0,z:7,symbol:'path://'+STAR,symbolKeepAspect:true,symbolSize:21,itemStyle:{color:'#1f77b4',opacity:1,borderColor:'#000',borderWidth:1.5},data:[lastFixPoint]},
 {type:'custom',name:'\u00b11\u03c3 propagated error',xAxisIndex:1,yAxisIndex:1,z:2,silent:true,clip:true,data:[[0]],encode:{x:[],y:[]},
  renderItem:(p,api)=>({type:'polygon',shape:{points:bandPoly.map(q=>api.coord(q))},style:{fill:BANDFILL,stroke:'rgba(127,140,141,.25)',lineWidth:.8}})},
 {type:'scatter',name:'Wind speed',xAxisIndex:1,yAxisIndex:1,z:3,symbolSize:5,itemStyle:dot('#2c3e50'),data:pt(windRows)},
 {type:'line',name:'Daily mean',xAxisIndex:1,yAxisIndex:1,z:4,showSymbol:false,lineStyle:{color:'#c0392b',width:1.8},data:meanDay.map((d,i)=>[toMs(d),windMean[i]])},
 {type:'scatter',name:'Latitude',xAxisIndex:2,yAxisIndex:2,z:3,symbolSize:5.2,itemStyle:dot('#000'),data:pt(latLeg1.concat(latLeg2,latLeg3,latLeg4))},
 {type:'scatter',name:'Altitude',xAxisIndex:3,yAxisIndex:3,z:3,symbolSize:5,itemStyle:dot('#7f8c8d'),data:pt(altClimb.concat(altLeg1,altLeg2,altLeg3,altLeg4))},
 {type:'line',name:'Daily mean altitude',xAxisIndex:3,yAxisIndex:3,z:4,showSymbol:false,lineStyle:{color:'#c0392b',width:1.8},data:meanDay.map((d,i)=>[toMs(d),altMean[i]])},
 histSeries('U (zonal)',uCounts,'rgba(31,119,180,.65)',3),
 histSeries('V (meridional)',vCounts,'rgba(255,127,14,.65)',4)
];
const titleCenters=[[428.3,18.2],[428.3,405.8],[1213.5,405.8],[428.3,795],[1213.5,795]];
const title=chartTitles.map((t,i)=>({text:t,padding:0,left:titleCenters[i][0],top:titleCenters[i][1]-6.5,textAlign:'center',textStyle:{fontFamily:FONT,fontSize:16.5,fontWeight:'normal',color:'#000'}}));
const infoY=[52,74.3,95.5,118.9,141.2,164.4,187.7,211,234.3,258.5,278.8];
const infoX=[1212.5,1212.5,1212.5,1212.5,1212.5,1212.5,1212.5,1212.5,1212.5,1212.5,1217.5];
const txt=(x,y,s,fs,c,al)=>({type:'text',x:x,y:y,z:50,style:{text:s,fontFamily:FONT,fontSize:fs,fill:c||'#000',align:al||'left',verticalAlign:'middle'}});
const box=(x,y,w,h)=>({type:'rect',z:40,shape:{x:x,y:y,width:w,height:h,r:3},style:{fill:'rgba(255,255,255,.8)',stroke:'rgba(200,200,200,.8)',lineWidth:1}});
const rectG=(x,y,w,h,f,s)=>({type:'rect',z:45,shape:{x:x,y:y,width:w,height:h},style:{fill:f,stroke:s,lineWidth:1}});
const starOutline=[[50,0],[61.2,34.5],[97.6,34.5],[68.2,55.9],[79.4,90.5],[50,69.1],[20.6,90.5],[31.8,55.9],[2.4,34.5],[38.8,34.5]];
const graphic=[];
infoLines.forEach((l,i)=>graphic.push(txt(infoX[i],infoY[i],l[0],l[1],l[2],'center')));
graphic.push(box(90,283.5,79,50),
 {type:'circle',z:45,shape:{cx:104.3,cy:292.3,r:2},style:{fill:'#c0392b'}},
 {type:'circle',z:45,shape:{cx:104.3,cy:308.3,r:8.3},style:{fill:'#27ae60',stroke:'#000',lineWidth:1.5}},
 {type:'polygon',z:46,shape:{points:starOutline.map(p=>[94+p[0]*.21,313+p[1]*.21])},style:{fill:'#1f77b4',stroke:'#000',lineWidth:1.5}},
 txt(124.5,293.3,'Track',10.8),txt(125,309.3,'Launch',10.8),txt(124.3,324,'Last fix',10.8),
 box(606.7,425.5,161.6,50),rectG(610,431,22.7,9,BANDFILL,'rgba(127,140,141,.35)'),
 {type:'circle',z:45,shape:{cx:621.7,cy:450.8,r:2},style:{fill:'#2c3e50'}},
 {type:'line',z:45,shape:{x1:610,y1:466,x2:632.7,y2:466},style:{stroke:'#c0392b',lineWidth:1.8}},
 txt(641.7,436,'\u00b11\u03c3 propagated error',11),txt(641.7,451.3,'Wind speed',11),txt(641.7,467,'Daily mean',11),
 box(1433.5,814.5,117,33),rectG(1437.5,819,23.7,7.6,'rgba(31,119,180,.65)','rgba(0,0,0,.65)'),rectG(1437.5,834,23.7,7.6,'rgba(255,127,14,.65)','rgba(0,0,0,.65)'),
 txt(1468.3,824,'U (zonal)',10.6),txt(1468.3,839,'V (meridional)',10.6));
const chart=echarts.init(document.getElementById('c'),null,{renderer:'canvas',width:1587,height:1189});
chart.setOption({animation:false,backgroundColor:'#fff',textStyle:{fontFamily:FONT},title:title,grid:G,xAxis:xAxes,yAxis:yAxes,series:series,graphic:graphic});
</script></body></html>
